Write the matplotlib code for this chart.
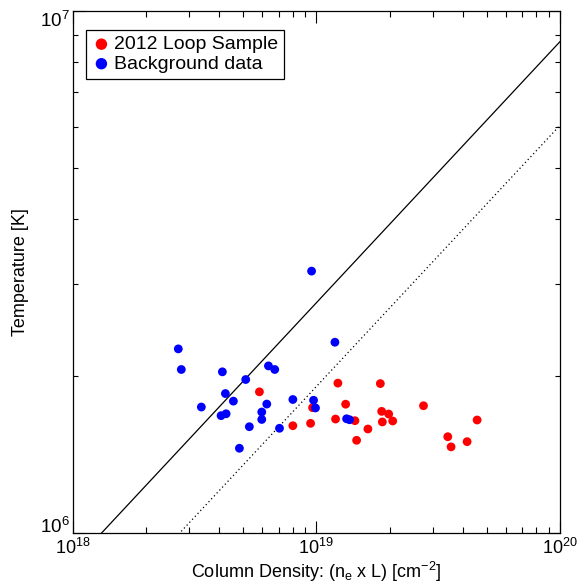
import numpy as np
from matplotlib import pyplot as plt
from matplotlib.ticker import LogLocator, LogFormatterMathtext, NullFormatter

plt.rcParams['font.family'] = ['Liberation Sans', 'DejaVu Sans']
plt.rcParams['mathtext.default'] = 'regular'

# 2012 loop sample
loop_n = [5.84e18, 8.01e18, 9.47e18, 9.65e18, 1.199e19, 1.226e19, 1.319e19,
          1.440e19, 1.463e19, 1.628e19, 1.831e19, 1.854e19, 1.866e19, 1.981e19,
          2.058e19, 2.753e19, 3.463e19, 3.573e19, 4.157e19, 4.57e19]
loop_t = [1.866e6, 1.607e6, 1.624e6, 1.740e6, 1.655e6, 1.939e6, 1.767e6,
          1.643e6, 1.507e6, 1.584e6, 1.935e6, 1.712e6, 1.634e6, 1.692e6,
          1.641e6, 1.755e6, 1.531e6, 1.464e6, 1.498e6, 1.648e6]

# background data
bg_n = [9.56e18, 2.713e18, 2.791e18, 4.115e18, 6.36e18, 6.75e18, 5.13e18,
        1.192e19, 4.234e18, 4.566e18, 3.373e18, 6.26e18, 4.064e18, 4.262e18,
        5.97e18, 5.97e18, 5.31e18, 7.06e18, 4.833e18, 8.01e18, 9.74e18,
        9.92e18, 1.331e19, 1.369e19]
bg_t = [3.177e6, 2.255e6, 2.059e6, 2.038e6, 2.092e6, 2.059e6, 1.970e6,
        2.322e6, 1.852e6, 1.791e6, 1.745e6, 1.768e6, 1.680e6, 1.694e6,
        1.707e6, 1.652e6, 1.600e6, 1.589e6, 1.455e6, 1.804e6, 1.798e6,
        1.738e6, 1.657e6, 1.650e6]

# T = coef * N^0.5 scaling lines
solid_coef = 8.737e-4
dotted_coef = 6.04e-4

fig = plt.figure(figsize=(5.77, 5.83), dpi=100)
ax = fig.add_axes([0.126, 0.0852, 0.8445, 0.8959])

n_line = np.logspace(18, 20, 200)
ax.plot(n_line, solid_coef * np.sqrt(n_line), color='black', lw=0.9)
ax.plot(n_line, dotted_coef * np.sqrt(n_line), color='black', lw=0.9,
        linestyle=(0, (1, 2.2)))

ax.scatter(loop_n, loop_t, s=40, color='red', edgecolors='none',
           label='2012 Loop Sample', zorder=3)
ax.scatter(bg_n, bg_t, s=40, color='blue', edgecolors='none',
           label='Background data', zorder=3)

ax.set_xscale('log')
ax.set_yscale('log')
ax.set_xlim(1e18, 1e20)
ax.set_ylim(1e6, 1e7)

ax.xaxis.set_major_locator(LogLocator(base=10))
ax.yaxis.set_major_locator(LogLocator(base=10))
ax.xaxis.set_major_formatter(LogFormatterMathtext())
ax.yaxis.set_major_formatter(LogFormatterMathtext())
ax.xaxis.set_minor_locator(LogLocator(base=10, subs=np.arange(2, 10)))
ax.yaxis.set_minor_locator(LogLocator(base=10, subs=np.arange(2, 10)))
ax.xaxis.set_minor_formatter(NullFormatter())
ax.yaxis.set_minor_formatter(NullFormatter())

ax.tick_params(which='both', direction='in', top=True, right=True,
               labelsize=13, width=0.8)
ax.tick_params(axis='x', which='major', pad=3.5)
ax.tick_params(axis='y', which='major', pad=2)
ax.tick_params(which='major', length=8.5)
ax.tick_params(axis='x', which='minor', length=4.5)
ax.tick_params(axis='y', which='minor', length=3.5)
for sp in ax.spines.values():
    sp.set_linewidth(0.9)

# y labels: bottom one sits on its tick, top one hangs below its tick
fig.canvas.draw()
for tick in ax.yaxis.get_major_ticks():
    tick.label1.set_fontsize(13.5)
    if np.isclose(tick.get_loc(), 1e7):
        tick.label1.set_va('top')
    else:
        tick.label1.set_va('baseline')

ax.set_xlabel('Column Density: (n$_e$ x L) [cm$^{-2}$]', fontsize=13)
ax.set_ylabel('Temperature [K]', fontsize=13)
ax.xaxis.set_label_coords(0.5, -0.05)
ax.yaxis.set_label_coords(-0.089, 0.5)

leg = ax.legend(loc='upper left', bbox_to_anchor=(0.027, 0.964), fontsize=14,
                frameon=True, fancybox=False, handletextpad=0.15,
                borderpad=0.3, labelspacing=0.1, handlelength=1.0,
                borderaxespad=0, scatterpoints=1, markerscale=1.3)
leg.get_frame().set_edgecolor('black')
leg.get_frame().set_linewidth(0.9)
leg.get_frame().set_alpha(1)

plt.savefig('out.png', dpi=100)
